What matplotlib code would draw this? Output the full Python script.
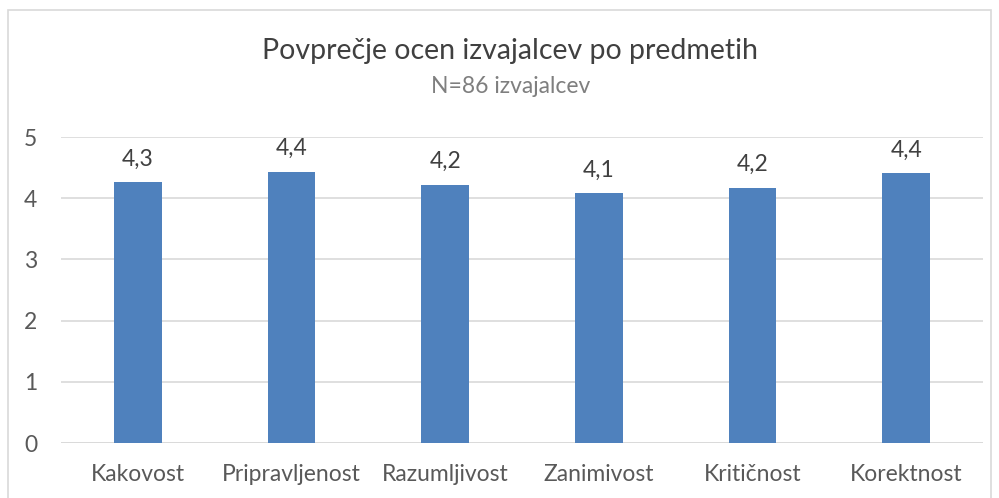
import matplotlib
matplotlib.use("Agg")
import matplotlib.pyplot as plt
from matplotlib.patches import Rectangle

categories = ["Kakovost", "Pripravljenost", "Razumljivost", "Zanimivost", "Kritičnost", "Korektnost"]
values = [4.26, 4.43, 4.22, 4.08, 4.17, 4.41]
labels = ["4,3", "4,4", "4,2", "4,1", "4,2", "4,4"]
yticks = [0, 1, 2, 3, 4, 5]

plt.rcParams['font.family'] = ['Lato', 'DejaVu Sans']
txt = '#595959'

fig = plt.figure(figsize=(9.99, 4.98), dpi=100)
ax = fig.add_axes([61/999, 1-443/498, (983-61)/999, (443-137)/498])

x = list(range(len(categories)))
bars = ax.bar(x, values, width=0.31, color='#4F81BD', zorder=3)
for b, l in zip(bars, labels):
    ax.annotate(l, (b.get_x() + b.get_width()/2, b.get_height()),
                xytext=(0, 12), textcoords='offset points',
                ha='center', va='baseline', fontsize=16.5, color='#404040')

ax.set_xlim(-0.5, len(categories) - 0.5)
ax.set_ylim(0, 5)
ax.set_yticks(yticks)
ax.set_yticklabels([str(v) for v in yticks], fontsize=16.5, color=txt)
ax.set_xticks(x)
ax.set_xticklabels(categories, fontsize=16.5, color=txt)
ax.tick_params(axis='both', length=0)
ax.tick_params(axis='y', pad=17)
ax.tick_params(axis='x', pad=15)
ax.yaxis.grid(True, color='#D9D9D9', linewidth=1.2, zorder=0)
for s in ax.spines.values():
    s.set_visible(False)
ax.axhline(0, color='#D9D9D9', linewidth=1.2, zorder=2)

fig.text(0.511, 1-59/498, "Povprečje ocen izvajalcev po predmetih", ha='center', va='baseline',
         fontsize=20.5, color='#404040')
fig.text(0.511, 1-93/498, "N=86 izvajalcev", ha='center', va='baseline', fontsize=16.5, color='#7F7F7F')

fig.patches.append(Rectangle((8/999, -0.1), (991-8)/999, 1.1 - 10/498, transform=fig.transFigure,
                             fill=False, edgecolor='#D9D9D9', linewidth=1.2))

fig.savefig("out.png", dpi=100)
